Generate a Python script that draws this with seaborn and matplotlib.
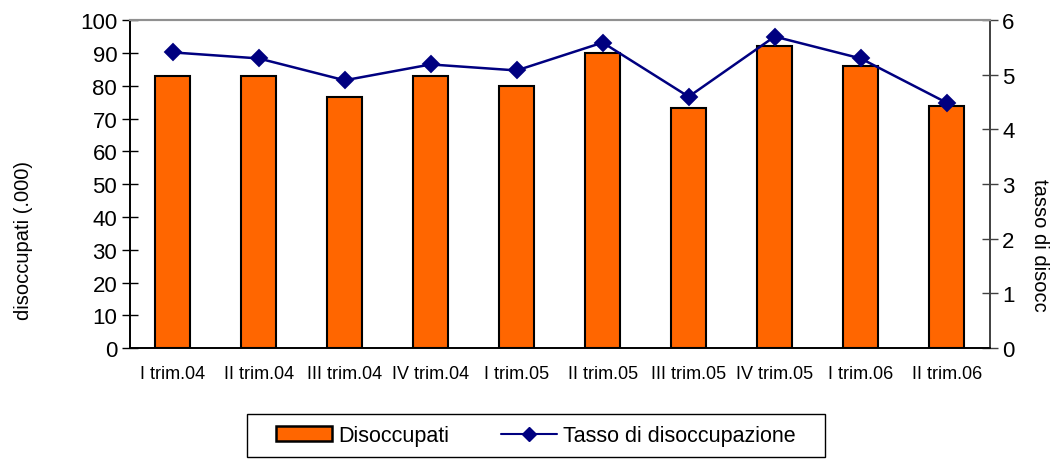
import pandas as pd
import matplotlib
matplotlib.use('Agg')
import matplotlib.pyplot as plt
import seaborn as sns
from matplotlib.patches import Patch, Rectangle
from matplotlib.lines import Line2D

trimestri = ["I trim.04", "II trim.04", "III trim.04", "IV trim.04", "I trim.05",
             "II trim.05", "III trim.05", "IV trim.05", "I trim.06", "II trim.06"]
disoccupati = [83.0, 83.0, 76.7, 83.0, 79.8, 90.1, 73.2, 92.0, 85.9, 73.8]
tasso = [5.41, 5.30, 4.90, 5.19, 5.08, 5.59, 4.60, 5.70, 5.30, 4.49]

df = pd.DataFrame({"trimestre": trimestri, "disoccupati": disoccupati, "tasso": tasso})

sns.set_style("white")
plt.rcParams['font.family'] = ['Liberation Sans', 'DejaVu Sans']
plt.rcParams['text.color'] = 'black'

fig, ax = plt.subplots(figsize=(10.63, 4.6), dpi=100)
fig.subplots_adjust(left=0.122, right=0.931, top=0.954, bottom=0.241)

sns.barplot(data=df, x="trimestre", y="disoccupati", color="#FF6600", saturation=1,
            width=0.4, edgecolor="black", linewidth=1.5, ax=ax)
ax.set_ylim(0, 100)
ax.set_xlim(-0.5, len(trimestri) - 0.5)
ax.set_yticks(range(0, 101, 10))
ax.set_ylabel("disoccupati (.000)", fontsize=14.5, color='black')
ax.yaxis.set_label_coords(-0.113, 0.33)
ax.set_xlabel("")

ax2 = ax.twinx()
sns.pointplot(data=df, x="trimestre", y="tasso", color="#000080", markers="D",
              markersize=8, linewidth=1.8, ax=ax2)
ax2.set_ylim(0, 6)
ax2.set_xlim(-0.5, len(trimestri) - 0.5)
ax2.set_yticks(range(0, 7))
ax2.set_ylabel("tasso di disocc", fontsize=14.5, rotation=270, va='bottom', color='black')
ax2.yaxis.set_label_coords(1.047, 0.315)
ax2.set_xlabel("")

# tick marks between categories
ax.set_xticks([i + 0.5 for i in range(-1, len(trimestri))], minor=True)
ax.tick_params(axis='x', which='major', length=0, labelsize=13, pad=12, labelcolor='black')
ax.tick_params(axis='x', which='minor', length=8, width=1, direction='inout', color='black')
ax.tick_params(axis='y', labelsize=16, length=12, width=1, direction='inout', left=True,
               color='black', labelcolor='black', pad=3)
ax2.tick_params(axis='y', labelsize=16, length=12, width=1, direction='inout', right=True,
                color='#404040', labelcolor='black', pad=3)

for a in (ax, ax2):
    for s in a.spines.values():
        s.set_visible(True)
        s.set_linewidth(1.2)
    a.spines['top'].set_color('#909090')
    a.spines['top'].set_linewidth(1.5)
    a.spines['left'].set_color('black')
    a.spines['bottom'].set_color('black')
    a.spines['right'].set_color('#404040')

# legend box below the plot
fig.patches.append(Rectangle((0.2324, 0.0043), 0.5437, 0.0935, transform=fig.transFigure,
                             facecolor='white', edgecolor='black', linewidth=1))
handles = [Patch(facecolor="#FF6600", edgecolor="black", linewidth=1.8),
           Line2D([0], [0], color="#000080", marker="D", markersize=7, linewidth=1.5)]
fig.legend(handles, ["Disoccupati", "Tasso di disoccupazione"], loc='center',
           bbox_to_anchor=(0.5042, 0.051), ncol=2, fontsize=15.5, frameon=False,
           handlelength=2.6, handleheight=0.7, handletextpad=0.3, columnspacing=2.4)

plt.savefig("out.png", dpi=100)
